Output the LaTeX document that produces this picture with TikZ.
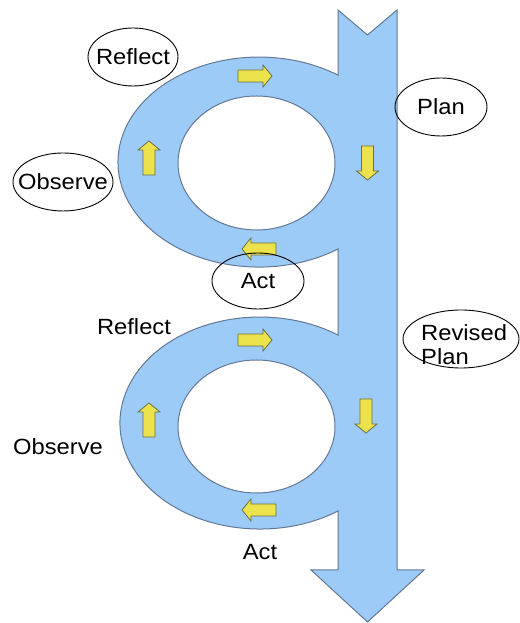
\documentclass[tikz,border=0pt]{standalone}
\usepackage{fontspec}
\setmainfont{Liberation Sans}
\usetikzlibrary{shapes.geometric}
\definecolor{flowblue}{RGB}{155,203,246}
\definecolor{flowline}{RGB}{100,120,150}
\definecolor{arryellow}{RGB}{236,226,76}
\definecolor{arrline}{RGB}{110,110,70}
\tikzset{
  lbl/.style={font=\fontsize{22}{24}\selectfont, inner sep=0pt, xscale=1.08, transform shape},
  oval/.style={draw=black, line width=0.9pt, ellipse, inner sep=0pt},
  blockarr/.pic={\path[fill=arryellow, draw=arrline, line width=0.8pt]
     (-17,-6) -- (8,-6) -- (8,-11) -- (17,0) -- (8,11) -- (8,6) -- (-17,6) -- cycle;}
}
\begin{document}
\begin{tikzpicture}[x=1pt,y=1pt]
\useasboundingbox (0,0) rectangle (519,623);
% main shape: shaft with two loops
\path[fill=flowblue, draw=flowline, line width=1pt, even odd rule]
  (338,548) -- (338,613) -- (367.5,588) -- (397,613) -- (397,53)
  -- (424,53) -- (367.5,1) -- (311,53) -- (338,53) -- (338,112)
  arc[start angle=-56.1, end angle=-303.9, x radius=140, y radius=106]
  -- (338,374)
  arc[start angle=-55.9, end angle=-304.1, x radius=141, y radius=105]
  -- cycle
  (256.5,460) ellipse [x radius=78.5, y radius=67]
  (256.5,196.5) ellipse [x radius=78.5, y radius=66.5];
% yellow arrows, upper loop
\pic at (255,547) {blockarr};
\pic[rotate=-90] at (367.5,460) {blockarr};
\pic[rotate=180] at (259,374) {blockarr};
\pic[rotate=90] at (149,465) {blockarr};
% yellow arrows, lower loop
\pic at (255,283) {blockarr};
\pic[rotate=-90] at (366,207) {blockarr};
\pic[rotate=180] at (259,113) {blockarr};
\pic[rotate=90] at (149,203) {blockarr};
% labels, upper loop
\node[oval, minimum width=90, minimum height=58] (reflA) at (133,566) {};
\node[lbl] (reflAt) at (reflA) {Reflect};
\node[oval, minimum width=100, minimum height=58] (obsA) at (63,441) {};
\node[lbl] (obsAt) at (obsA) {Observe};
\node[oval, minimum width=92, minimum height=58] (planA) at (441,516) {};
\node[lbl] (planAt) at (planA) {Plan};
\node[oval, minimum width=92, minimum height=56] (actA) at (258,342) {};
\node[lbl] (actAt) at (actA) {Act};
% labels, lower loop
\node[lbl] (reflB) at (134,296) {Reflect};
\node[lbl] (obsB) at (58,176) {Observe};
\node[lbl] (actB) at (260,71) {Act};
\node[oval, minimum width=116, minimum height=58] (revB) at (461,284) {};
\node[lbl, anchor=west] (revBt1) at (421,290) {Revised};
\node[lbl, anchor=west] (revBt2) at (421,266) {Plan};
\end{tikzpicture}
\end{document}
